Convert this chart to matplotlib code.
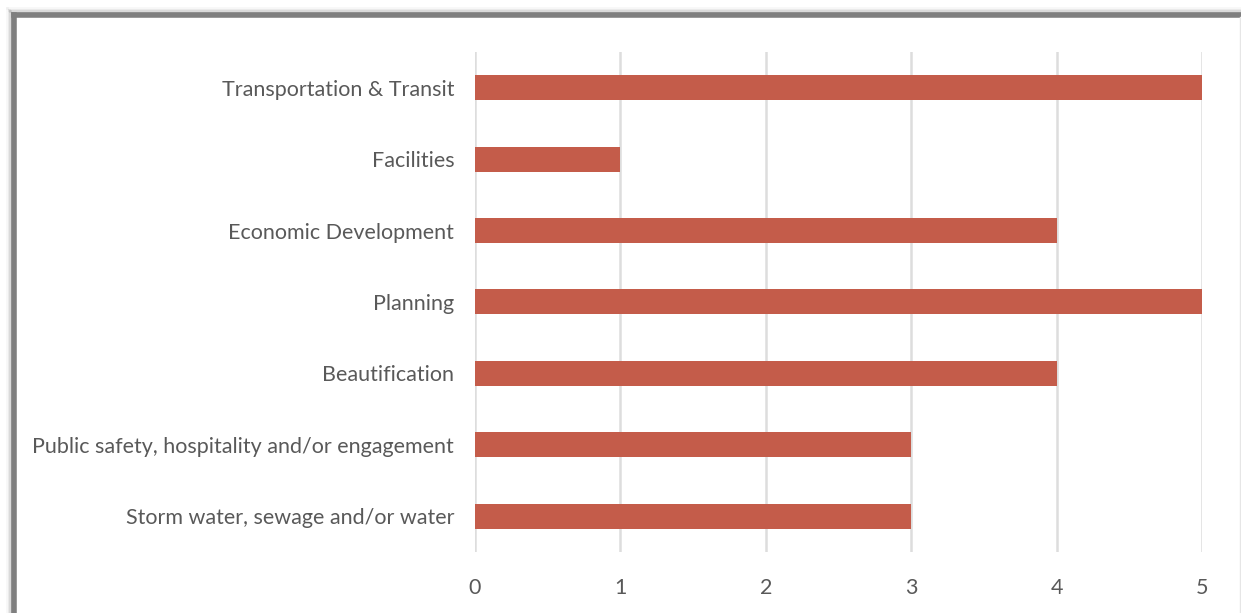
import matplotlib
matplotlib.use("Agg")
import matplotlib.pyplot as plt
from matplotlib.lines import Line2D

categories = [
    "Transportation & Transit",
    "Facilities",
    "Economic Development",
    "Planning",
    "Beautification",
    "Public safety, hospitality and/or engagement",
    "Storm water, sewage and/or water",
]
counts = [5, 1, 4, 5, 4, 3, 3]
x_ticks = [0, 1, 2, 3, 4, 5]

BAR = "#C45C4A"
GRID = "#DDDDDD"
TEXT = "#595959"

plt.rcParams["font.family"] = ["Lato", "DejaVu Sans"]

fig = plt.figure(figsize=(12.41, 6.13), dpi=100)
W, H = 1241, 613
ax = fig.add_axes([475 / W, 1 - 552 / H, (1202 - 475) / W, (552 - 52) / H])

pos = list(range(len(categories)))[::-1]
ax.barh(pos, counts, height=0.35, color=BAR, zorder=3)
ax.set_xlim(0, 5)
ax.set_ylim(-0.5, len(categories) - 0.5)
ax.set_yticks(pos)
ax.set_yticklabels(categories, va="center_baseline")
ax.set_xticks(x_ticks)
ax.tick_params(axis="y", length=0, pad=15, labelsize=15.5, labelcolor=TEXT)
ax.tick_params(axis="x", length=0, pad=19, labelsize=15.5, labelcolor=TEXT)
ax.grid(axis="x", color=GRID, linewidth=1.8, zorder=0)
for s in ax.spines.values():
    s.set_visible(False)

# frame with a soft drop shadow along the top and left edges
for i, a in enumerate([0.06, 0.12, 0.2, 0.32]):
    off = (4 - i) * 1.5
    fig.add_artist(Line2D([(13 - off) / W, (13 - off) / W], [0, 1 - (14 - off) / H],
                          transform=fig.transFigure, color="#808080", alpha=a, lw=2))
    fig.add_artist(Line2D([(13 - off) / W, 1], [1 - (14 - off) / H, 1 - (14 - off) / H],
                          transform=fig.transFigure, color="#808080", alpha=a, lw=2))
fig.add_artist(Line2D([14 / W, 14 / W], [0, 1 - 15 / H], transform=fig.transFigure,
                      color="#7F7F7F", lw=4))
fig.add_artist(Line2D([14 / W, 1], [1 - 15 / H, 1 - 15 / H], transform=fig.transFigure,
                      color="#7F7F7F", lw=4))
fig.add_artist(Line2D([1239.5 / W, 1239.5 / W], [0, 1 - 17 / H], transform=fig.transFigure,
                      color="#E6E6E6", lw=1))

fig.savefig("out.png", dpi=100)
